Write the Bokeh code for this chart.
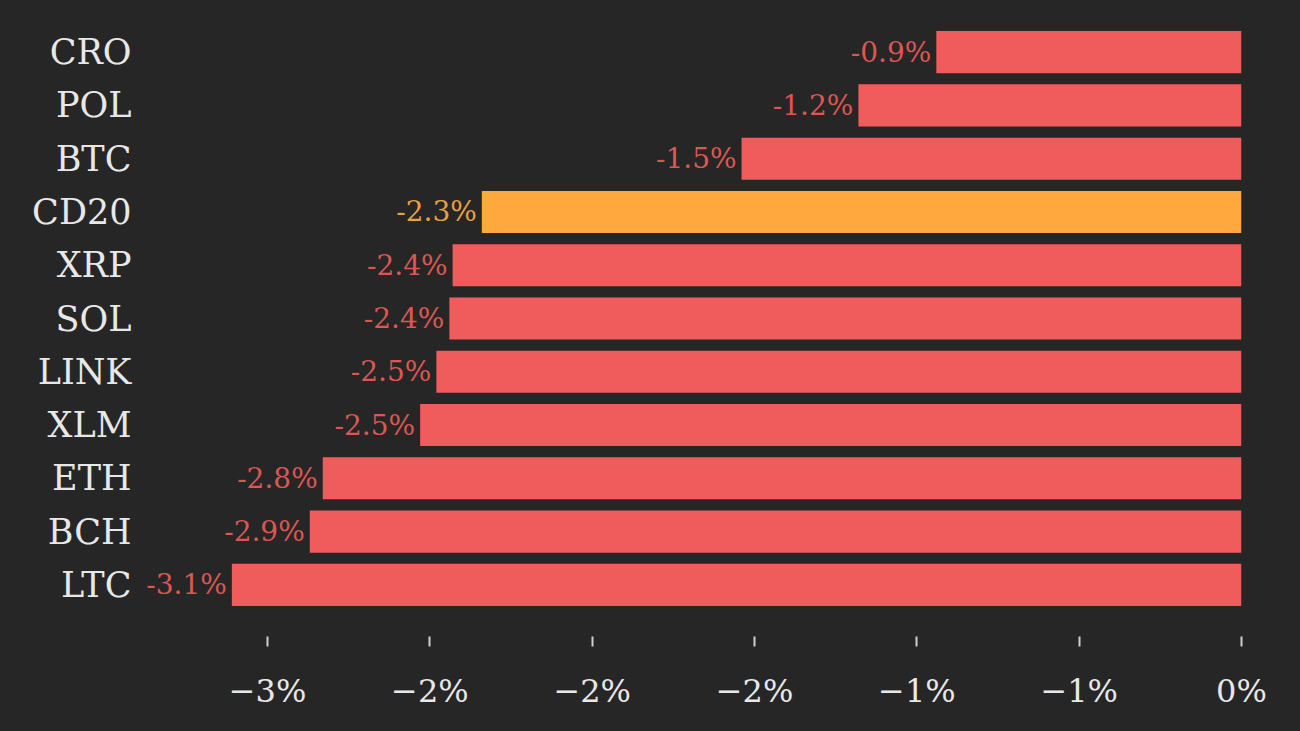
from bokeh.plotting import figure
from bokeh.models import ColumnDataSource, Range1d, FactorRange, FixedTicker
from bokeh.core.properties import value
from bokeh.embed import file_html
from bokeh.resources import INLINE

# ---- data ----
coins = ["CRO", "POL", "BTC", "CD20", "XRP", "SOL", "LINK", "XLM", "ETH", "BCH", "LTC"]
changes = [-0.94, -1.18, -1.54, -2.34, -2.43, -2.44, -2.48, -2.53, -2.83, -2.87, -3.11]
highlight = "CD20"
tick_values = [-3.0, -2.5, -2.0, -1.5, -1.0, -0.5, 0.0]
tick_labels = ["\u22123%", "\u22122%", "\u22122%", "\u22122%", "\u22121%", "\u22121%", "0%"]

# ---- styles ----
BG = "#262626"
BAR_RED = "#f05c5c"
BAR_ORANGE = "#ffa83e"
LBL_RED = "#dc5652"
LBL_ORANGE = "#e8a040"
TEXT = "#e8e8e8"
FONT = "DejaVu Serif"

labels = ["%.1f%%" % v for v in changes]
bar_colors = [BAR_ORANGE if c == highlight else BAR_RED for c in coins]
lbl_colors = [LBL_ORANGE if c == highlight else LBL_RED for c in coins]

source = ColumnDataSource(dict(coin=coins, change=changes, label=labels,
                               color=bar_colors, lcolor=lbl_colors))

p = figure(width=1300, height=731, output_backend="svg", toolbar_location=None,
           y_range=FactorRange(factors=list(reversed(coins))),
           x_range=Range1d(-3.376, 0.0),
           min_border_left=145, min_border_right=59, min_border_top=25,
           min_border_bottom=120,
           background_fill_color=BG, border_fill_color=BG,
           outline_line_color=None)
p.styles = {"background-color": BG}

p.hbar(y="coin", left="change", right=0, height=0.79, source=source,
       fill_color="color", line_color=None)

p.text(x="change", y="coin", text="label", source=source,
       text_align="right", text_baseline="middle", x_offset=-5,
       text_font=value(FONT), text_font_size="28px", text_color="lcolor")

p.grid.grid_line_color = None

# y axis
p.yaxis.axis_line_color = None
p.yaxis.major_tick_line_color = None
p.yaxis.minor_tick_line_color = None
p.yaxis.major_label_standoff = 8
p.yaxis.major_label_text_font = FONT
p.yaxis.major_label_text_font_size = "35px"
p.yaxis.major_label_text_color = TEXT

# x axis
p.xaxis.ticker = FixedTicker(ticks=tick_values)
p.xaxis.major_label_overrides = {t: l for t, l in zip(tick_values, tick_labels)}
p.xaxis.axis_line_color = None
p.xaxis.minor_tick_line_color = None
p.xaxis.major_tick_line_color = "#cfcfcf"
p.xaxis.major_tick_line_width = 2
p.xaxis.major_tick_in = -25
p.xaxis.major_tick_out = 35
p.xaxis.major_label_standoff = 25
p.xaxis.major_label_text_font = FONT
p.xaxis.major_label_text_font_size = "32px"
p.xaxis.major_label_text_color = TEXT

open("out.html", "w").write(file_html(p, INLINE))
